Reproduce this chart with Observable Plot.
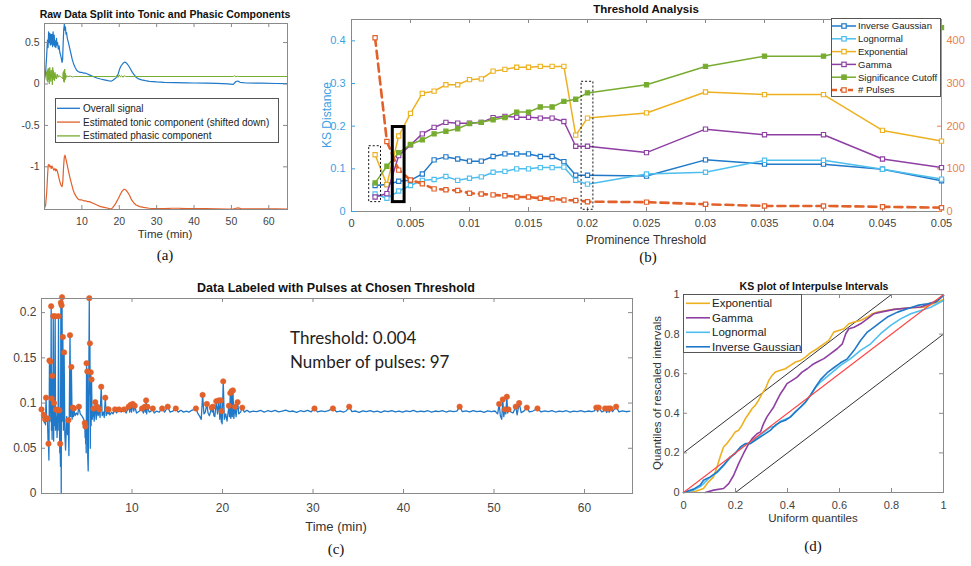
<!DOCTYPE html>
<html>
<head>
<meta charset="utf-8">
<script src="https://cdn.jsdelivr.net/npm/d3@7"></script>
<script src="https://cdn.jsdelivr.net/npm/@observablehq/plot@0.6"></script>
<style>
  html, body { margin: 0; padding: 0; background: #fff; }
  #fig { position: relative; width: 971px; height: 566px; overflow: hidden;
         font-family: "Liberation Sans", Arial, sans-serif; color: #222; }
  .pane { position: absolute; }
  .pane svg { display: block; }
  .lbl { position: absolute; white-space: nowrap; line-height: 1; transform: translate(-50%, -50%); }
  .title { font-weight: bold; color: #111; }
  .tag { font-family: "Liberation Serif", "Times New Roman", serif; font-size: 15px; color: #111; }
  .vert { transform: translate(-50%, -50%) rotate(-90deg); }
  .note { position: absolute; white-space: nowrap; line-height: 1; transform: translateY(-50%);
          font-family: Lato, "Open Sans", sans-serif; font-size: 17px; color: #222; }
</style>
</head>
<body>
<div id="fig"></div>
<script>
// ---------- (a) raw signal and its tonic / phasic split ----------
const overallSignal = [[0,0.05],[0.3,0.14],[0.6,0.36],[0.8,0.53],[0.95,0.44],[1.1,0.63],[1.25,0.5],[1.4,0.61],[1.55,0.47],[1.7,0.6],[1.85,0.48],[2.0,0.6],[2.15,0.45],[2.3,0.63],[2.45,0.47],[2.6,0.59],[2.75,0.45],[2.9,0.52],[3.05,0.44],[3.2,0.55],[3.35,0.47],[3.5,0.5],[3.7,0.42],[3.9,0.46],[4.1,0.38],[4.3,0.35],[4.5,0.31],[4.7,0.26],[4.85,0.3],[5.0,0.5],[5.15,0.66],[5.3,0.72],[5.45,0.65],[5.6,0.69],[5.75,0.6],[5.9,0.62],[6.1,0.55],[6.4,0.5],[6.7,0.44],[7.0,0.38],[7.4,0.3],[7.8,0.24],[8.2,0.2],[8.6,0.165],[9.0,0.15],[9.5,0.14],[10.0,0.14],[10.5,0.13],[11.0,0.13],[11.5,0.12],[12.0,0.11],[13.0,0.09],[14.0,0.072],[15.0,0.06],[16.0,0.05],[17.0,0.04],[17.8,0.033],[18.3,0.045],[18.8,0.062],[19.3,0.08],[19.7,0.12],[20.1,0.18],[20.5,0.22],[21.0,0.25],[21.5,0.265],[22.0,0.25],[22.5,0.22],[23.0,0.18],[23.5,0.14],[24.0,0.11],[24.5,0.08],[25.0,0.065],[26.0,0.05],[27.0,0.04],[28.0,0.032],[30.0,0.025],[32.0,0.02],[35.0,0.017],[38.0,0.014],[40.0,0.012],[43.0,0.01],[46.0,0.007],[49.0,0.002],[50.5,-0.005],[51.2,0.03],[51.7,0.036],[52.3,0.02],[54.0,0.012],[58.0,0.01],[62.0,0.006],[65.0,0.004]];
const tonicShifted = [[0,-1.5],[0.3,-1.46],[0.6,-1.3],[0.85,-1.08],[1.0,-0.98],[1.2,-0.97],[1.4,-1.0],[1.6,-0.99],[1.8,-1.02],[2.0,-0.99],[2.2,-1.01],[2.5,-1.04],[2.8,-1.02],[3.0,-1.05],[3.2,-1.03],[3.5,-1.06],[3.8,-1.12],[4.1,-1.18],[4.4,-1.22],[4.7,-1.24],[4.9,-1.18],[5.1,-1.0],[5.3,-0.88],[5.5,-0.86],[5.7,-0.9],[6.0,-0.96],[6.4,-1.05],[6.8,-1.13],[7.2,-1.2],[7.6,-1.27],[8.0,-1.32],[8.5,-1.36],[9.0,-1.39],[9.5,-1.4],[10.0,-1.4],[10.5,-1.41],[11.0,-1.41],[11.5,-1.42],[12.0,-1.42],[13.0,-1.44],[14.0,-1.46],[15.0,-1.48],[16.0,-1.49],[17.0,-1.5],[17.8,-1.51],[18.3,-1.49],[18.8,-1.46],[19.3,-1.42],[19.8,-1.38],[20.3,-1.33],[20.8,-1.29],[21.3,-1.27],[21.8,-1.28],[22.3,-1.31],[22.8,-1.35],[23.3,-1.4],[23.8,-1.43],[24.5,-1.46],[25.5,-1.48],[26.5,-1.49],[28,-1.5],[30,-1.505],[32,-1.505],[34,-1.5],[36,-1.5],[38,-1.505],[40,-1.505],[43,-1.505],[46,-1.508],[49,-1.51],[50.5,-1.51],[51.2,-1.5],[51.8,-1.495],[52.5,-1.503],[55,-1.507],[58,-1.507],[62,-1.508],[65,-1.51]];
const phasicComponent = [[0,0.09],[0.4,0.09],[0.6,0.15],[0.7,0.04],[0.8,0.17],[0.9,0.02],[1.0,0.19],[1.1,0.05],[1.2,0.16],[1.3,0.0],[1.4,0.2],[1.5,0.06],[1.6,0.15],[1.7,0.03],[1.8,0.17],[1.9,0.07],[2.0,0.12],[2.1,-0.01],[2.2,0.2],[2.3,0.05],[2.4,0.16],[2.5,0.06],[2.6,0.13],[2.7,0.04],[2.8,0.14],[2.9,0.07],[3.0,0.11],[3.2,0.06],[3.4,0.12],[3.6,0.08],[3.8,0.1],[4.2,0.09],[4.6,0.08],[4.9,0.06],[5.0,0.14],[5.1,0.03],[5.2,0.16],[5.3,0.02],[5.4,0.18],[5.5,0.05],[5.6,0.13],[5.7,0.07],[5.9,0.1],[6.3,0.09],[7.0,0.095],[7.5,0.085],[8,0.09],[19.0,0.09],[19.4,0.1],[19.7,0.08],[20.0,0.11],[20.3,0.085],[20.7,0.1],[21.0,0.08],[21.3,0.1],[21.7,0.09],[50.5,0.09],[50.9,0.1],[51.2,0.085],[51.5,0.095],[52,0.09],[65,0.09]];
const splitNames = ["Overall signal", "Estimated tonic component (shifted down)", "Estimated phasic component"];
const timeTicks = [10, 20, 30, 40, 50, 60];
const ampTicks = [-1, -0.5, 0, 0.5];

// ---------- (b) KS distance against prominence threshold ----------
const thresholds = [0.002,0.003,0.004,0.005,0.006,0.007,0.008,0.009,0.010,0.011,0.012,0.013,0.014,0.015,0.016,0.017,0.018,0.019,0.020,0.025,0.030,0.035,0.040,0.045,0.050];
const ksInverseGaussian = [0.061,0.063,0.071,0.073,0.088,0.121,0.128,0.123,0.118,0.118,0.129,0.135,0.135,0.135,0.129,0.129,0.117,0.085,0.085,0.083,0.121,0.111,0.111,0.099,0.072];
const ksLognormal       = [0.041,0.031,0.048,0.061,0.073,0.075,0.082,0.073,0.078,0.081,0.092,0.094,0.100,0.100,0.103,0.103,0.104,0.073,0.064,0.088,0.092,0.120,0.120,0.099,0.076];
const ksExponential     = [0.133,0.063,0.177,0.230,0.277,0.282,0.297,0.297,0.309,0.311,0.329,0.333,0.338,0.338,0.340,0.340,0.340,0.179,0.219,0.231,0.280,0.274,0.274,0.190,0.165];
const ksGamma           = [0.034,0.042,0.131,0.156,0.182,0.197,0.209,0.207,0.207,0.209,0.220,0.223,0.221,0.221,0.219,0.219,0.211,0.153,0.153,0.138,0.193,0.180,0.180,0.123,0.103];
const significanceCutoff= [0.067,0.106,0.138,0.157,0.168,0.182,0.188,0.194,0.206,0.209,0.215,0.220,0.233,0.233,0.245,0.245,0.258,0.263,0.278,0.297,0.340,0.364,0.364,0.398,0.431];
const pulseCount        = [407,164,97,74,65,53,51,49,43,41,39,37,34,34,31,30,27,26,23,22,17,13,13,11,9];
const chosenThreshold = 0.004;
// KS ranges spanned by the highlight boxes around each threshold
const highlightRanges = [[0.002, 0.022, 0.153], [0.004, 0.022, 0.198], [0.020, 0.004, 0.304]];
const thresholdTicks = [0,0.005,0.01,0.015,0.02,0.025,0.03,0.035,0.04,0.045,0.05];
const ksTicks = [0, 0.1, 0.2, 0.3, 0.4];
const pulseTicks = [0, 100, 200, 300, 400];
const pulsesPerKsUnit = 1000;   // right axis 0–450 pulses shares the 0–0.45 KS frame

// ---------- (c) detrended signal; third entry 1 marks a detected pulse ----------
const signalEarly = [[0.00,0.093,1],[0.10,0.084],[0.18,0.088],[0.25,0.087,1],[0.32,0.078],[0.40,0.082,1],[0.44,0.076],[0.50,0.106,1],[0.58,0.080],[0.66,0.083,1],[0.72,0.060],[0.77,0.055,1],[0.82,0.037],[0.88,0.147,1],[0.94,0.080],[0.99,0.146,1],[1.03,0.090],[1.07,0.207,1],[1.10,0.070],[1.13,0.105,1],[1.17,0.060],[1.21,0.130,1],[1.25,0.070],[1.30,0.196,1],[1.34,0.058],[1.38,0.100,1],[1.43,0.075],[1.51,0.196,1],[1.55,0.070],[1.59,0.093,1],[1.63,0.078],[1.67,0.085],[1.72,0.062],[1.78,0.092,1],[1.83,0.070],[1.88,0.196,1],[1.93,0.080],[1.97,0.092,1],[2.02,0.045],[2.06,0.055,1],[2.10,0.030],[2.14,0.211,1],[2.18,0.000],[2.22,0.208,1],[2.25,0.150],[2.27,0.217,1],[2.31,0.080],[2.36,0.173,1],[2.42,0.070],[2.50,0.156,1],[2.58,0.065],[2.66,0.048],[2.78,0.085],[2.88,0.065],[2.97,0.081,1],[3.03,0.042],[3.10,0.120],[3.15,0.175,1],[3.22,0.085],[3.30,0.140,1],[3.38,0.082],[3.46,0.095,1],[3.52,0.085],[3.58,0.094,1],[3.70,0.086],[3.85,0.089],[4.00,0.087],[4.13,0.096,1],[4.28,0.088],[4.45,0.086],[4.62,0.083],[4.74,0.080],[4.78,0.078,1],[4.82,0.062],[4.85,0.074,1],[4.88,0.055],[4.91,0.071],[4.94,0.045],[4.98,0.144,1],[5.02,0.060],[5.06,0.135,1],[5.11,0.040],[5.16,0.025],[5.22,0.120],[5.28,0.216,1],[5.31,0.110],[5.35,0.166,1],[5.39,0.050],[5.44,0.134,1],[5.48,0.075],[5.53,0.126,1],[5.60,0.082],[5.70,0.090],[5.75,0.094,1],[5.82,0.080],[5.94,0.101,1],[6.04,0.082],[6.16,0.096,1],[6.26,0.086],[6.38,0.093,1],[6.47,0.084],[6.60,0.118,1],[6.70,0.086],[6.85,0.090],[6.93,0.084],[7.05,0.106,1],[7.15,0.086],[7.30,0.093,1],[7.36,0.088],[7.41,0.093,1],[7.55,0.087],[7.75,0.090],[7.90,0.088]];
const signalMiddle = [[8.12,0.093,1],[8.3,0.089],[8.56,0.093,1],[8.8,0.090],[9.12,0.093,1],[9.35,0.089],[9.63,0.096,1],[9.75,0.090],[9.85,0.098,1],[9.95,0.090],[10.08,0.099,1],[10.2,0.091],[10.3,0.097,1],[10.5,0.089],[10.8,0.091],[11.11,0.094,1],[11.25,0.089],[11.41,0.096,1],[11.48,0.090],[11.56,0.103,1],[11.62,0.088],[11.7,0.096,1],[11.9,0.090],[12.1,0.091],[12.3,0.094,1],[12.45,0.089],[12.7,0.091],[13.0,0.090],[13.33,0.094,1],[13.6,0.090],[13.95,0.096,1],[14.2,0.090],[14.5,0.091],[14.84,0.094,1],[15.1,0.090],[15.4,0.092],[15.7,0.090],[16.0,0.091],[16.3,0.090],[16.6,0.092],[17.06,0.094,1],[17.3,0.088],[17.5,0.085],[17.65,0.082],[17.8,0.109,1],[17.95,0.088],[18.1,0.090],[18.27,0.099,1],[18.4,0.089],[18.55,0.086],[18.8,0.095,1],[18.87,0.090],[18.94,0.096,1],[19.05,0.086],[19.15,0.085],[19.31,0.102,1],[19.45,0.088],[19.6,0.103,1],[19.7,0.082],[19.82,0.103,1],[19.87,0.079],[19.9,0.091,1],[19.96,0.077],[20.08,0.124,1],[20.2,0.082],[20.35,0.088],[20.5,0.080],[20.71,0.097,1],[20.78,0.085],[20.86,0.111,1],[20.92,0.083],[21.0,0.113,1],[21.08,0.085],[21.15,0.114,1],[21.25,0.083],[21.37,0.096,1],[21.5,0.085],[21.67,0.101,1],[21.8,0.088],[22.0,0.090],[22.18,0.095,1],[22.4,0.090],[22.7,0.092],[23.0,0.090]];
const signalLate = [[23.4,0.091],[23.8,0.0905],[24.2,0.092],[24.6,0.090],[25.0,0.0915],[25.4,0.0905],[25.8,0.0918],[26.2,0.0902],[26.6,0.091],[27.0,0.0922],[27.4,0.0905],[27.8,0.0912],[28.2,0.0898],[28.6,0.0915],[29.0,0.0905],[29.4,0.0918],[29.8,0.0903],[30.16,0.094,1],[30.5,0.0902],[30.9,0.0914],[31.3,0.0906],[31.7,0.0917],[32.2,0.094,1],[32.6,0.0903],[33.0,0.0912],[33.4,0.0901],[33.7,0.0915],[34.0,0.096,1],[34.3,0.0905],[34.7,0.0912],[35.1,0.0898],[35.5,0.0914],[35.9,0.0904],[36.3,0.0916],[36.7,0.0902],[37.1,0.091],[37.5,0.0897],[37.9,0.0913],[38.3,0.0905],[38.7,0.0917],[39.1,0.0903],[39.5,0.0911],[39.9,0.0899],[40.3,0.0914],[40.7,0.0906],[41.1,0.0918],[41.5,0.0902],[41.9,0.0911],[42.3,0.0904],[42.7,0.0915],[43.1,0.0899],[43.5,0.0912],[43.9,0.0906],[44.3,0.0916],[44.7,0.0901],[45.1,0.0913],[45.5,0.0905],[45.9,0.091],[46.2,0.096,1],[46.5,0.0904],[46.9,0.0914],[47.3,0.0902],[47.7,0.0916],[48.1,0.0905],[48.5,0.0911],[48.9,0.0898],[49.3,0.0914],[49.7,0.0906],[50.1,0.0912],[50.4,0.088],[50.57,0.099,1],[50.7,0.086],[50.85,0.082],[50.97,0.104,1],[51.08,0.085],[51.2,0.093,1],[51.3,0.088],[51.42,0.107,1],[51.5,0.089],[51.6,0.093,1],[51.8,0.0905],[52.1,0.089],[52.4,0.096,1],[52.55,0.087],[52.78,0.100,1],[53.0,0.0895],[53.3,0.091],[53.63,0.095,1],[53.9,0.0903],[54.3,0.0912],[54.8,0.094,1],[55.2,0.0902],[55.6,0.0914],[56.0,0.0905],[56.4,0.0916],[56.8,0.0901],[57.2,0.0912],[57.6,0.0904],[58.0,0.0915],[58.4,0.0899],[58.8,0.0911],[59.2,0.0906],[59.6,0.0917],[60.0,0.0903],[60.4,0.0912],[60.8,0.0905],[61.1,0.0913],[61.3,0.095,1],[61.45,0.0905],[61.57,0.095,1],[61.9,0.0902],[62.1,0.091],[62.27,0.094,1],[62.45,0.0895],[62.6,0.094,1],[62.72,0.0898],[62.86,0.094,1],[63.1,0.0905],[63.49,0.096,1],[63.8,0.0903],[64.2,0.0913],[64.6,0.0904],[65.0,0.0911]];
const levelTicks = [0, 0.05, 0.1, 0.15, 0.2];

// ---------- (d) KS plot: [uniform quantile, rescaled-interval quantile] ----------
const ksCurveExponential = [[0,0],[0.039,0.003],[0.077,0.02],[0.096,0.054],[0.116,0.079],[0.129,0.129],[0.141,0.18],[0.154,0.23],[0.167,0.247],[0.186,0.281],[0.199,0.306],[0.212,0.314],[0.225,0.34],[0.238,0.373],[0.251,0.398],[0.264,0.424],[0.276,0.44],[0.289,0.466],[0.302,0.499],[0.315,0.524],[0.328,0.566],[0.341,0.592],[0.353,0.608],[0.373,0.617],[0.392,0.625],[0.411,0.642],[0.431,0.659],[0.45,0.667],[0.469,0.684],[0.488,0.705],[0.514,0.726],[0.54,0.751],[0.559,0.768],[0.578,0.81],[0.597,0.818],[0.617,0.827],[0.636,0.852],[0.656,0.861],[0.681,0.869],[0.707,0.886],[0.726,0.903],[0.746,0.911],[0.81,0.925],[0.874,0.933],[0.925,0.936],[0.951,0.95],[0.977,0.962],[1,0.975]];
const ksCurveGamma = [[0.084,0],[0.116,0.012],[0.154,0.02],[0.174,0.045],[0.193,0.087],[0.212,0.146],[0.231,0.197],[0.251,0.247],[0.264,0.272],[0.283,0.297],[0.296,0.306],[0.308,0.348],[0.321,0.382],[0.334,0.407],[0.347,0.432],[0.36,0.466],[0.373,0.499],[0.386,0.524],[0.398,0.55],[0.418,0.566],[0.437,0.583],[0.456,0.608],[0.476,0.625],[0.495,0.645],[0.514,0.659],[0.54,0.676],[0.566,0.701],[0.591,0.726],[0.611,0.751],[0.624,0.802],[0.636,0.827],[0.656,0.835],[0.681,0.852],[0.707,0.877],[0.733,0.903],[0.758,0.911],[0.81,0.925],[0.874,0.933],[0.913,0.937],[0.938,0.95],[0.977,0.97],[1,0.995]];
const ksCurveLognormal = [[0,0],[0.039,0.012],[0.064,0.03],[0.077,0.045],[0.096,0.07],[0.129,0.1],[0.154,0.135],[0.18,0.175],[0.199,0.2],[0.219,0.225],[0.238,0.245],[0.257,0.25],[0.276,0.27],[0.296,0.29],[0.315,0.31],[0.334,0.33],[0.353,0.335],[0.373,0.36],[0.392,0.37],[0.411,0.38],[0.431,0.41],[0.45,0.43],[0.469,0.455],[0.488,0.49],[0.508,0.53],[0.527,0.558],[0.566,0.6],[0.604,0.642],[0.643,0.676],[0.681,0.718],[0.72,0.751],[0.758,0.802],[0.797,0.844],[0.835,0.877],[0.874,0.903],[0.913,0.919],[0.951,0.936],[1,0.97]];
const ksCurveInverseGaussian = [[0,0],[0.039,0.017],[0.064,0.037],[0.077,0.062],[0.103,0.079],[0.129,0.104],[0.154,0.138],[0.18,0.18],[0.199,0.197],[0.219,0.23],[0.238,0.247],[0.257,0.247],[0.276,0.264],[0.296,0.281],[0.315,0.297],[0.334,0.314],[0.353,0.34],[0.373,0.356],[0.392,0.365],[0.411,0.382],[0.431,0.407],[0.45,0.432],[0.469,0.457],[0.488,0.491],[0.508,0.533],[0.527,0.57],[0.553,0.605],[0.578,0.63],[0.604,0.655],[0.63,0.675],[0.656,0.718],[0.681,0.768],[0.707,0.81],[0.733,0.835],[0.758,0.861],[0.784,0.886],[0.823,0.911],[0.861,0.928],[0.9,0.945],[0.938,0.953],[0.97,0.961],[1,0.995]];
const ksBandOffsets = [-0.2, 0.2];
const unitTicks = [0, 0.2, 0.4, 0.6, 0.8, 1];

// ---------- styling ----------
const COL = {
  blue: "#1f78c8", light: "#4dbeee", yellow: "#edb120", purple: "#8e3fa3",
  green: "#77ac30", orange: "#e2602a", frame: "#8a8a8a", tick: "#444",
  ksAxis: "#3d9fe3", pulseAxis: "#ea7f4d"
};
const FONT = '"Liberation Sans", Arial, sans-serif';
const fig = document.getElementById("fig");

function place(node, left, top) {
  const d = document.createElement("div");
  d.className = "pane";
  d.style.left = left + "px";
  d.style.top = top + "px";
  d.appendChild(node);
  fig.appendChild(d);
}
function text(str, cx, cy, cls, size, color) {
  const d = document.createElement("div");
  d.className = "lbl " + (cls || "");
  d.textContent = str;
  d.style.left = cx + "px";
  d.style.top = cy + "px";
  if (size) d.style.fontSize = size + "px";
  if (color) d.style.color = color;
  fig.appendChild(d);
}
// MATLAB-style box: frame plus short inward ticks on all four sides
function boxTicks(dim, xt, yt, opt = {}) {
  const iw = dim.width - dim.marginLeft - dim.marginRight;
  const ih = dim.height - dim.marginTop - dim.marginBottom;
  const L = 4;
  return [
    Plot.frame({stroke: COL.frame}),
    Plot.ruleX(xt, {stroke: COL.frame, insetTop: ih - L}),
    Plot.ruleX(xt, {stroke: COL.frame, insetBottom: ih - L}),
    Plot.ruleY(yt, {stroke: opt.left || COL.frame, insetRight: iw - L}),
    Plot.ruleY(opt.rightTicks || yt, {stroke: opt.right || COL.frame, insetLeft: iw - L})
  ];
}
const fmt = d => String(d);
const xy = {x: d => d[0], y: d => d[1]};

// legend drawn as a small SVG overlay
function legendBox(left, top, w, h, cfg, rows) {
  const svg = d3.create("svg").attr("width", w).attr("height", h)
    .style("position", "absolute").style("left", left + "px").style("top", top + "px")
    .style("font-family", FONT).style("font-size", cfg.fontSize + "px");
  svg.append("rect").attr("x", 0.5).attr("y", 0.5).attr("width", w - 1).attr("height", h - 1)
    .attr("fill", "#fff").attr("stroke", "#555");
  rows.forEach((r, i) => {
    const cy = cfg.rowTop + i * cfg.rowGap;
    svg.append("line").attr("x1", cfg.x0).attr("x2", cfg.x1).attr("y1", cy).attr("y2", cy)
      .attr("stroke", r.color).attr("stroke-width", r.width || 1.5)
      .attr("stroke-dasharray", r.dash || null);
    if (r.marker) {
      const mx = (cfg.x0 + cfg.x1) / 2, s = 4.4;
      svg.append("rect").attr("x", mx - s / 2).attr("y", cy - s / 2).attr("width", s).attr("height", s)
        .attr("fill", r.filled ? r.color : "#fff").attr("stroke", r.color).attr("stroke-width", 1.2);
    }
    svg.append("text").attr("x", cfg.tx).attr("y", cy).attr("dy", "0.35em").attr("fill", "#222").text(r.name);
  });
  fig.appendChild(svg.node());
}

// ================= panel (a) =================
{
  const dim = {width: 300, height: 232, marginLeft: 44, marginRight: 13, marginTop: 23, marginBottom: 23};
  const splitStyle = [
    {data: overallSignal, color: COL.blue, width: 1.2},
    {data: tonicShifted, color: COL.orange, width: 1.2},
    {data: phasicComponent, color: COL.green, width: 1}
  ];
  const p = Plot.plot({
    ...dim,
    style: {fontFamily: FONT, fontSize: "10.5px", color: COL.tick, background: "transparent"},
    x: {domain: [0, 65]},
    y: {domain: [-1.515, 0.73]},
    marks: [
      ...splitStyle.map(s => Plot.line(s.data, {...xy, stroke: s.color, strokeWidth: s.width, clip: true})),
      ...boxTicks(dim, timeTicks, ampTicks),
      Plot.axisX(timeTicks, {tickSize: 0, tickPadding: 8, label: null, tickFormat: fmt}),
      Plot.axisY(ampTicks, {tickSize: 0, tickPadding: 5, label: null, tickFormat: fmt})
    ]
  });
  place(p, 0, 0);
  text("Raw Data Split into Tonic and Phasic Components", 165, 14, "title", 10.5);
  text("Time (min)", 165, 235, "", 11.5, "#333");
  text("(a)", 165, 255, "tag");
  legendBox(55, 98, 224, 45, {fontSize: 10, rowTop: 10.3, rowGap: 13.8, x0: 2, x1: 25, tx: 28},
    splitNames.map((n, i) => ({name: n, color: splitStyle[i].color, width: 1.3})));
}

// ================= panel (b) =================
{
  const dim = {width: 651, height: 232, marginLeft: 31, marginRight: 30, marginTop: 19, marginBottom: 21};
  const ksSeries = [
    {name: "Inverse Gaussian", values: ksInverseGaussian, color: COL.blue},
    {name: "Lognormal", values: ksLognormal, color: COL.light},
    {name: "Exponential", values: ksExponential, color: COL.yellow},
    {name: "Gamma", values: ksGamma, color: COL.purple},
    {name: "Significance Cutoff", values: significanceCutoff, color: COL.green, filled: true}
  ];
  const rowsOf = vals => thresholds.map((t, i) => ({t, v: vals[i]}));
  const pulseRows = thresholds.map((t, i) => ({t, v: pulseCount[i] / pulsesPerKsUnit}));
  const halfW = 0.0005;
  const boxes = highlightRanges.map(([t, lo, hi]) => ({t, lo, hi, chosen: t === chosenThreshold}));
  const p = Plot.plot({
    ...dim,
    style: {fontFamily: FONT, fontSize: "11px", color: COL.tick, background: "transparent"},
    x: {domain: [0, 0.05]},
    y: {domain: [0, 0.45]},
    marks: [
      ...boxTicks(dim, thresholdTicks, ksTicks, {left: COL.ksAxis, right: COL.pulseAxis,
        rightTicks: pulseTicks.map(v => v / pulsesPerKsUnit)}),
      Plot.ruleX([0], {stroke: COL.ksAxis}),
      Plot.ruleX([0.05], {stroke: COL.pulseAxis}),
      ...ksSeries.flatMap(s => [
        Plot.line(rowsOf(s.values), {x: "t", y: "v", stroke: s.color, strokeWidth: 1.5}),
        Plot.dot(rowsOf(s.values), {x: "t", y: "v", symbol: "square", r: 2.4,
          stroke: s.color, strokeWidth: 1.1, fill: s.filled ? s.color : "#fff"})
      ]),
      Plot.line(pulseRows, {x: "t", y: "v", stroke: COL.orange, strokeWidth: 2.6, strokeDasharray: "8,5"}),
      Plot.dot(pulseRows, {x: "t", y: "v", symbol: "square", r: 2.4, stroke: COL.orange, strokeWidth: 1.2, fill: "#fff"}),
      Plot.rect(boxes.filter(b => !b.chosen), {x1: b => b.t - halfW, x2: b => b.t + halfW, y1: "lo", y2: "hi",
        fill: "none", stroke: "#111", strokeWidth: 1, strokeDasharray: "2,2"}),
      Plot.rect(boxes.filter(b => b.chosen), {x1: b => b.t - halfW, x2: b => b.t + halfW, y1: "lo", y2: "hi",
        fill: "none", stroke: "#000", strokeWidth: 3}),
      Plot.axisX(thresholdTicks, {tickSize: 0, tickPadding: 8, label: null, tickFormat: fmt}),
      Plot.axisY(ksTicks, {tickSize: 0, tickPadding: 6, label: null, tickFormat: fmt, color: COL.ksAxis}),
      Plot.axisY(pulseTicks.map(v => v / pulsesPerKsUnit), {anchor: "right", tickSize: 0, tickPadding: 5,
        label: null, tickFormat: d => Math.round(d * pulsesPerKsUnit), color: COL.pulseAxis})
    ]
  });
  place(p, 320, 0);
  text("Threshold Analysis", 646, 10, "title", 11.5);
  text("KS Distance", 327, 115, "vert", 12, COL.ksAxis);
  text("Prominence Threshold", 646, 240, "", 12, "#333");
  text("(b)", 648, 257, "tag");
  legendBox(831, 18, 110, 79, {fontSize: 9.5, rowTop: 8, rowGap: 12.8, x0: 1, x1: 25, tx: 27}, [
    ...ksSeries.map(s => ({name: s.name, color: s.color, marker: true, filled: s.filled})),
    {name: "# Pulses", color: COL.orange, width: 2.4, dash: "5,3", marker: true}
  ]);
}

// ================= panel (c) =================
{
  const dim = {width: 660, height: 240, marginLeft: 41, marginRight: 28, marginTop: 18, marginBottom: 27};
  const signal = [...signalEarly, ...signalMiddle, ...signalLate];
  const pulses = signal.filter(d => d[2] === 1);
  const p = Plot.plot({
    ...dim,
    style: {fontFamily: FONT, fontSize: "12px", color: COL.tick, background: "transparent"},
    x: {domain: [0, 65.3]},
    y: {domain: [0, 0.2156]},
    marks: [
      Plot.line(signal, {...xy, stroke: COL.blue, strokeWidth: 1.3}),
      Plot.dot(pulses, {...xy, r: 2.7, fill: COL.orange, stroke: COL.orange, strokeWidth: 0.6}),
      ...boxTicks(dim, timeTicks, levelTicks),
      Plot.axisX(timeTicks, {tickSize: 0, tickPadding: 10, label: null, tickFormat: fmt}),
      Plot.axisY(levelTicks, {tickSize: 0, tickPadding: 5, label: null, tickFormat: fmt})
    ]
  });
  place(p, 0, 280);
  text("Data Labeled with Pulses at Chosen Threshold", 336, 288, "title", 12.5);
  text("Time (min)", 336, 526, "", 13, "#333");
  text("(c)", 336, 549, "tag");
  const chosenCount = pulseCount[thresholds.indexOf(chosenThreshold)];
  for (const [str, cy] of [["Threshold: " + chosenThreshold, 337], ["Number of pulses: " + chosenCount, 361]]) {
    const d = document.createElement("div");
    d.className = "note";
    d.textContent = str;
    d.style.left = "290px";
    d.style.top = cy + "px";
    fig.appendChild(d);
  }
}

// ================= panel (d) =================
{
  const dim = {width: 311, height: 250, marginLeft: 23, marginRight: 28, marginTop: 14, marginBottom: 38};
  const curves = [
    {name: "Exponential", data: ksCurveExponential, color: COL.yellow},
    {name: "Gamma", data: ksCurveGamma, color: COL.purple},
    {name: "Lognormal", data: ksCurveLognormal, color: COL.light},
    {name: "Inverse Gaussian", data: ksCurveInverseGaussian, color: COL.blue}
  ];
  const p = Plot.plot({
    ...dim,
    style: {fontFamily: FONT, fontSize: "11px", color: COL.tick, background: "transparent"},
    x: {domain: [0, 1]},
    y: {domain: [0, 1]},
    marks: [
      Plot.link(ksBandOffsets, {x1: 0, y1: d => d, x2: 1, y2: d => 1 + d, stroke: "#333", strokeWidth: 1, clip: true}),
      ...curves.map(c => Plot.line(c.data, {...xy, stroke: c.color, strokeWidth: 1.6})),
      Plot.link([0], {x1: 0, y1: d => d, x2: 1, y2: d => 1 + d, stroke: "#ff4444", strokeWidth: 1.1}),
      ...boxTicks(dim, unitTicks, unitTicks),
      Plot.axisX(unitTicks, {tickSize: 0, tickPadding: 9, label: null, tickFormat: fmt}),
      Plot.axisY(unitTicks, {tickSize: 0, tickPadding: 4, label: null, tickFormat: fmt})
    ]
  });
  place(p, 660, 280);
  text("KS plot of Interpulse Intervals", 814, 286, "title", 10.5);
  text("Uniform quantiles", 813, 519, "", 11.5, "#333");
  text("Quantiles of rescaled intervals", 658, 393, "vert", 11.5, "#333");
  text("(d)", 813, 546, "tag");
  legendBox(683, 294, 119, 59, {fontSize: 11.5, rowTop: 9.3, rowGap: 14.5, x0: 3, x1: 27, tx: 29},
    curves.map(c => ({name: c.name, color: c.color, width: 1.6})));
}
</script>
</body>
</html>
